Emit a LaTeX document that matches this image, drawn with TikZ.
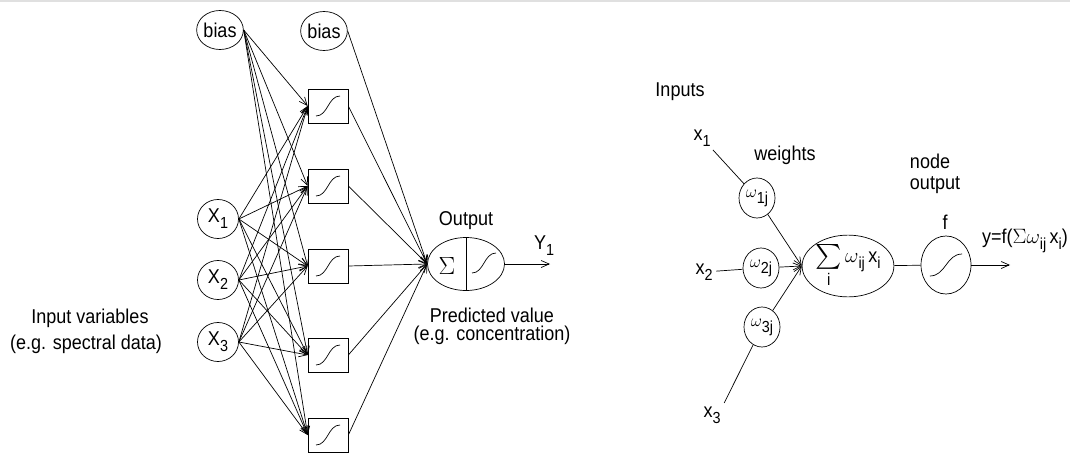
\documentclass[tikz,border=0pt]{standalone}
\usepackage{amsmath}
\usepackage{fontspec}
\setmainfont{Liberation Sans}[FakeStretch=0.9]
\usetikzlibrary{arrows.meta, positioning, shapes.geometric}
\newcommand{\lowidx}[1]{\raisebox{-0.3em}{\fontsize{16}{16}\selectfont #1}}

\begin{document}
\begin{tikzpicture}[x=1pt, y=-1pt, line width=0.7pt, font=\fontsize{20}{22}\selectfont,
    >={Straight Barb[length=8pt,width=7pt]},
    unit/.style={draw, ellipse, inner sep=0pt, minimum width=41pt, minimum height=39pt},
    hidden/.style={draw, rectangle, inner sep=0pt, minimum width=40pt, minimum height=34pt},
    weight/.style={draw, ellipse, inner sep=0pt, minimum width=36pt, minimum height=40pt},
    txt/.style={inner sep=0pt, anchor=base},
    sigm/.pic={\draw (-12,10) .. controls (0,10) and (0,-10) .. (12,-10);}]
  \useasboundingbox (0,0) rectangle (1070,455);
  \draw[black!12, line width=1.5pt] (0,1) -- (1070,1);

  \node[unit] (b1) at (220,30) {bias};
  \node[unit] (b2) at (324,31) {bias};
  \foreach \i/\y in {1/219, 2/280, 3/342}
    \node[unit] (x\i) at (218,\y) {X\lowidx{\i}};
  \foreach \j/\y in {1/106, 2/186, 3/266, 4/355, 5/435} {
    \node[hidden] (h\j) at (328,\y) {};
    \pic at (h\j) {sigm};
  }
  \node[draw, ellipse, inner sep=0pt, minimum width=77pt, minimum height=53pt] (out) at (466,264) {};
  \draw (out.north) -- (out.south);
  \node[font=\fontsize{23}{23}\selectfont] (sig) at (447,266) {$\Sigma$};
  \pic at (484,263) {sigm};

  \foreach \j in {1,...,5} {
    \foreach \s in {b1, x1, x2, x3}
      \draw[->] (\s.east) -- (h\j.west);
    \draw[->] (h\j.east) -- (out.west);
  }
  \draw[->] (b2.east) -- (out.west);
  \coordinate (yend) at (550,264);
  \draw[->] (out.east) -- (yend);

  \node (y1) at (544,246) {Y\lowidx{1}};
  \node (outlbl) at (466,221) {Output};
  \node[txt] (pred1) at (492,322) {Predicted value};
  \node[txt] (pred2) at (492,340) {(e.g. concentration)};
  \node[txt] (invar1) at (90,323) {Input variables};
  \node[txt] (invar2) at (86,349) {(e.g. spectral data)};

  \node (inputs) at (680,92) {Inputs};
  \node (weights) at (785,155) {weights};
  \node[txt] (nodeout1) at (930,168) {node};
  \node[txt] (nodeout2) at (935,189) {output};
  \node (in1) at (702,138) {x\lowidx{1}};
  \node (in2) at (704,272) {x\lowidx{2}};
  \node (in3) at (712,415) {x\lowidx{3}};
  \foreach \i/\x/\y in {1/757/198, 2/761/268, 3/762/327}
    \node[weight] (w\i) at (\x,\y) {{\fontsize{16}{16}\selectfont$\omega$}\lowidx{\i j}};
  \node[draw, ellipse, inner sep=0pt, minimum width=80pt, minimum height=46pt] (sum) at (848,266)
    {{\fontsize{24}{24}\selectfont$\sum\limits_{\text{i}}$}\,$\omega$\lowidx{ij}\,x\lowidx{i}};
  \node[draw, ellipse, inner sep=0pt, minimum width=50pt, minimum height=58pt] (f) at (946,265) {};
  \pic[xscale=1.35, yscale=1.1] at (f) {sigm};
  \node (flbl) at (945,222) {f};
  \coordinate (fend) at (1010,265);
  \node (yf) at (1025,241) {y=f($\Sigma\omega$\lowidx{ij}\,x\lowidx{i})};

  \draw (in1) -- (w1);
  \draw (in2) -- (w2);
  \draw (in3.north east) -- (w3);
  \foreach \i in {1, 2, 3}
    \draw[->] (w\i) -- (sum.west);
  \draw (sum) -- (f);
  \draw[->] (f) -- (fend);
\end{tikzpicture}
\end{document}
